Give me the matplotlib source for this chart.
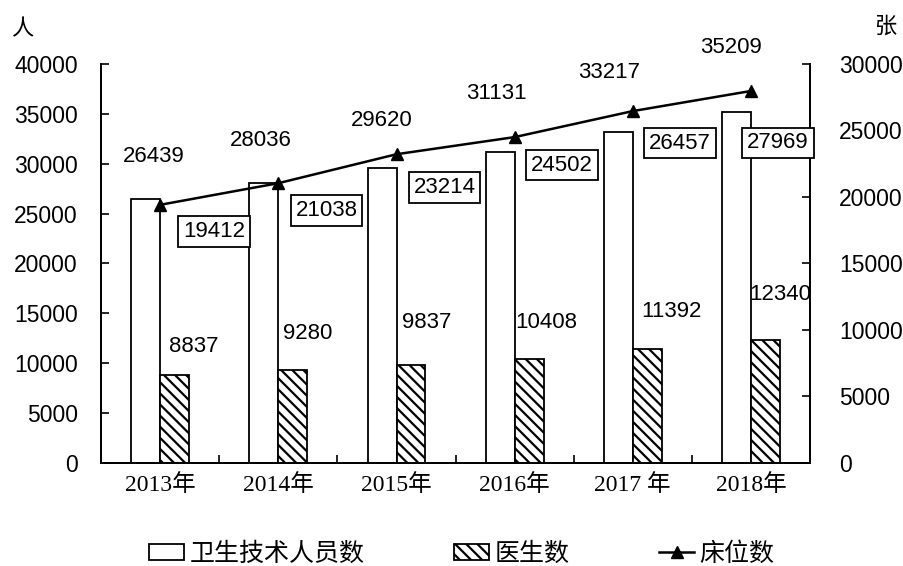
import matplotlib
matplotlib.use("Agg")
import matplotlib.pyplot as plt
import numpy as np
from matplotlib.patches import Patch
from matplotlib.lines import Line2D

plt.rcParams['font.family'] = ['Liberation Sans', 'Noto Sans CJK SC']
plt.rcParams['hatch.linewidth'] = 1.6

years = ["2013年", "2014年", "2015年", "2016年", "2017 年", "2018年"]
staff = [26439, 28036, 29620, 31131, 33217, 35209]      # 卫生技术人员数 (人)
doctors = [8837, 9280, 9837, 10408, 11392, 12340]       # 医生数 (人)
beds = [19412, 21038, 23214, 24502, 26457, 27969]       # 床位数 (张)

# label offsets in pixels (dx, dy up) relative to the mark they annotate
staff_off = [(8, 43), (-3, 43), (0, 47), (-4, 59), (-9, 59), (-5, 64)]
doc_off = [(19, 28), (15, 37), (16, 42), (17, 37), (24, 38), (15, 45)]
bed_off = [(54, -27), (48, -27), (48, -33), (47, -28), (47, -32), (27, -52)]

fig = plt.figure(figsize=(9.04, 5.66), dpi=100)
ax = fig.add_axes([0.112, 0.182, 0.784, 0.705])
ax2 = ax.twinx()

x = np.arange(len(years))
w = 0.245
ax.bar(x - w / 2, staff, w, color="white", edgecolor="black", linewidth=1.3)
ax.bar(x + w / 2, doctors, w, color="white", edgecolor="black", linewidth=1.3,
       hatch="\\\\\\")
ax2.plot(x, beds, color="black", linewidth=1.8, marker="^", markersize=9)

ax.set_xlim(-0.5, 5.5)
ax.set_ylim(0, 40000)
ax2.set_ylim(0, 30000)
ax.set_yticks(np.arange(0, 40001, 5000))
ax2.set_yticks(np.arange(0, 30001, 5000))
ax.set_xticks(x)
ax.set_xticklabels(years, family=['Liberation Serif', 'Noto Sans CJK SC'], fontsize=17)
ax.set_xticks(np.arange(0.5, 5.0, 1.0), minor=True)
ax.tick_params(axis="x", which="major", length=0, pad=8)
ax.tick_params(axis="x", which="minor", direction="in", length=6, width=1.2)
ax.tick_params(axis="y", direction="in", length=6, width=1.2, labelsize=16.5, pad=17)
ax2.tick_params(axis="y", direction="in", length=6, width=1.2, labelsize=16.5, pad=21)

for a in (ax, ax2):
    a.spines["top"].set_visible(False)
    for s in ("left", "right", "bottom"):
        a.spines[s].set_linewidth(1.3)

px = 0.72
for i, v in enumerate(staff):
    dx, dy = staff_off[i]
    ax.annotate(str(v), (x[i] - w / 2, v), xytext=(dx * px, dy * px),
                textcoords="offset points", ha="center", va="center", fontsize=16)
for i, v in enumerate(doctors):
    dx, dy = doc_off[i]
    ax.annotate(str(v), (x[i] + w / 2, v), xytext=(dx * px, dy * px),
                textcoords="offset points", ha="center", va="center", fontsize=16)
for i, v in enumerate(beds):
    dx, dy = bed_off[i]
    ax2.annotate(str(v), (x[i], v), xytext=(dx * px, dy * px),
                 textcoords="offset points", ha="center", va="center", fontsize=16,
                 bbox=dict(boxstyle="square,pad=0.22", fc="white", ec="black", lw=1.3))

fig.text(0.012, 0.947, "人", fontsize=16, ha="left", va="center")
fig.text(0.992, 0.952, "张", fontsize=16, ha="right", va="center")

handles = [
    Patch(facecolor="white", edgecolor="black", linewidth=1.3),
    Patch(facecolor="white", edgecolor="black", linewidth=1.3, hatch="\\\\\\"),
    Line2D([], [], color="black", linewidth=1.8, marker="^", markersize=9),
]
labels = ["卫生技术人员数", "医生数", "床位数"]
fig.legend(handles, labels, loc="center", bbox_to_anchor=(0.511, 0.022), ncol=3,
           frameon=False, handlelength=1.4, handleheight=0.6,
           handletextpad=0.2, columnspacing=3.6,
           prop={"family": ['Liberation Serif', 'Noto Sans CJK SC'], "size": 18})

fig.savefig("out.png", dpi=100)
